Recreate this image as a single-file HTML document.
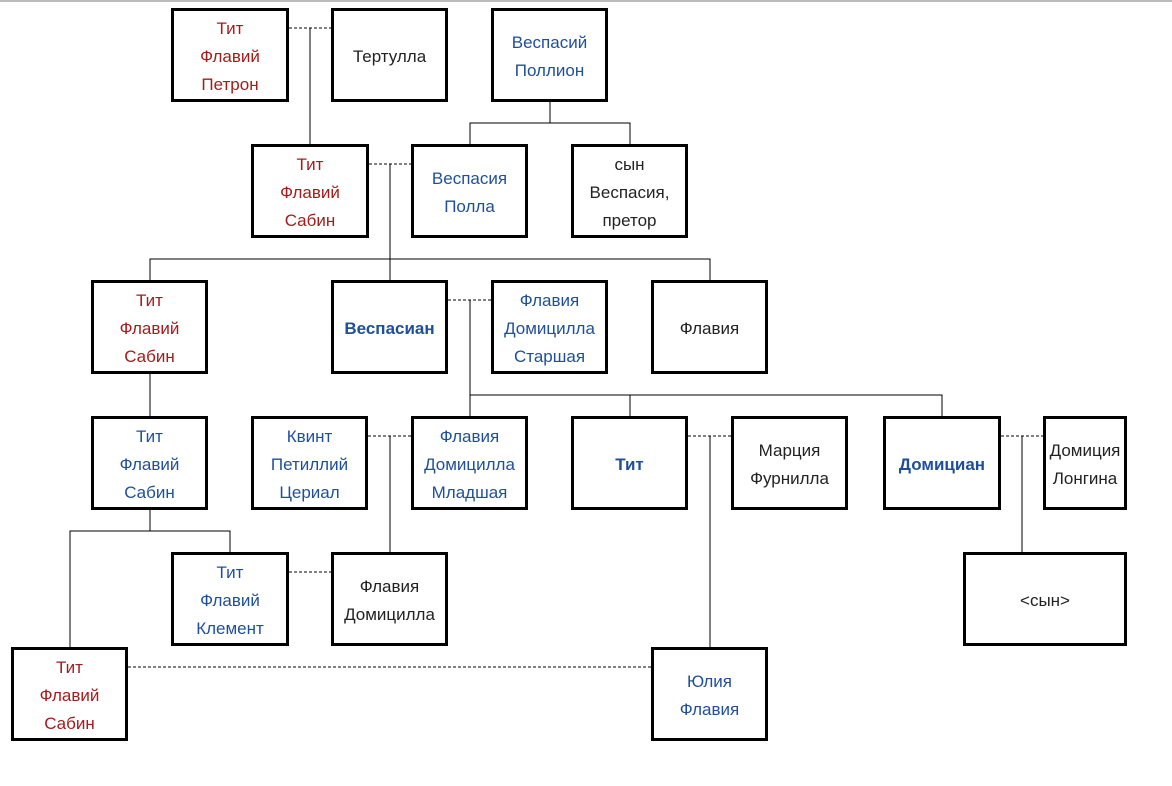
<!DOCTYPE html>
<html><head><meta charset="utf-8"><style>
body{margin:0;width:1172px;height:786px;background:#fff;position:relative;overflow:hidden;font-family:"Liberation Sans",Arial,sans-serif;font-size:17px}
.b{position:absolute;box-sizing:border-box;border:3px solid #000;background:#fff;display:flex;align-items:center;justify-content:center;text-align:center;line-height:28px;color:#222;padding-top:3px}
.r{color:#a11d1d}.u{color:#1f4f9a}.k{font-weight:bold;color:#1f4f9a}
svg{position:absolute;left:0;top:0}
</style></head><body>
<svg width="1172" height="786">
<line x1="0" y1="1" x2="1172" y2="1" stroke="#bbb" stroke-width="2"/>
<g stroke="#000" stroke-width="1" fill="none">
<path d="M310 28V144M550 102V123M470 144V123H630V144M390 164V259M150 280V259H710V280M390 259V280M470 300V395M470 416V395H942V416M630 395V416M150 374V416M150 510V531M70 647V531H230V552M390 436V552M710 436V647M1022 436V552"/>
<path stroke-dasharray="3,2" d="M289 28H331M369 164H411M448 300H491M368 436H411M289 572H331M688 436H731M1001 436H1043M128 667H651"/>
</g>
</svg>
<div class="b r" style="left:171px;top:8px;width:118px;height:94px">Тит<br>Флавий<br>Петрон</div>
<div class="b" style="left:331px;top:8px;width:117px;height:94px">Тертулла</div>
<div class="b u" style="left:491px;top:8px;width:117px;height:94px">Веспасий<br>Поллион</div>
<div class="b r" style="left:251px;top:144px;width:118px;height:94px">Тит<br>Флавий<br>Сабин</div>
<div class="b u" style="left:411px;top:144px;width:117px;height:94px">Веспасия<br>Полла</div>
<div class="b" style="left:571px;top:144px;width:117px;height:94px">сын<br>Веспасия,<br>претор</div>
<div class="b r" style="left:91px;top:280px;width:117px;height:94px">Тит<br>Флавий<br>Сабин</div>
<div class="b k" style="left:331px;top:280px;width:117px;height:94px">Веспасиан</div>
<div class="b u" style="left:491px;top:280px;width:117px;height:94px">Флавия<br>Домицилла<br>Старшая</div>
<div class="b" style="left:651px;top:280px;width:117px;height:94px">Флавия</div>
<div class="b u" style="left:91px;top:416px;width:117px;height:94px">Тит<br>Флавий<br>Сабин</div>
<div class="b u" style="left:251px;top:416px;width:117px;height:94px">Квинт<br>Петиллий<br>Цериал</div>
<div class="b u" style="left:411px;top:416px;width:117px;height:94px">Флавия<br>Домицилла<br>Младшая</div>
<div class="b k" style="left:571px;top:416px;width:117px;height:94px">Тит</div>
<div class="b" style="left:731px;top:416px;width:117px;height:94px">Марция<br>Фурнилла</div>
<div class="b k" style="left:883px;top:416px;width:118px;height:94px">Домициан</div>
<div class="b" style="left:1043px;top:416px;width:84px;height:94px">Домиция<br>Лонгина</div>
<div class="b u" style="left:171px;top:552px;width:118px;height:94px">Тит<br>Флавий<br>Клемент</div>
<div class="b" style="left:331px;top:552px;width:117px;height:94px">Флавия<br>Домицилла</div>
<div class="b" style="left:963px;top:552px;width:164px;height:94px">&lt;сын&gt;</div>
<div class="b r" style="left:11px;top:647px;width:117px;height:94px">Тит<br>Флавий<br>Сабин</div>
<div class="b u" style="left:651px;top:647px;width:117px;height:94px">Юлия<br>Флавия</div>
</body></html>
